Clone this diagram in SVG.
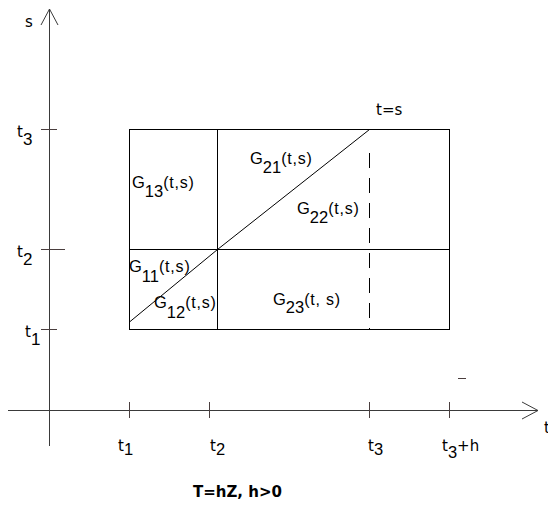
<svg xmlns="http://www.w3.org/2000/svg" width="548" height="508" viewBox="0 0 548 508">
<style>
.ax{stroke:#3a3a3a;stroke-width:1;fill:none}
.tk{stroke:#4a3e3e;stroke-width:1;fill:none}
.bx{stroke:#000;stroke-width:1;fill:none}
.dash{stroke:#000;stroke-width:1;stroke-dasharray:15 10;fill:none}
text{fill:#000;font-family:"DejaVu Sans",sans-serif;font-size:15px}
.g{font-family:"Liberation Sans",Arial,sans-serif;font-size:16.5px}
.d{font-family:"Liberation Sans",Arial,sans-serif;font-size:16.5px}
.ad{font-family:"Liberation Sans",Arial,sans-serif;font-size:17px}
.p{font-family:"Liberation Sans",Arial,sans-serif;font-size:16px;letter-spacing:0.8px}
.b{font-family:"DejaVu Sans",sans-serif;font-weight:bold;font-size:15px}
</style>
<rect width="548" height="508" fill="#fff"/>
<g id="axes">
<line class="ax" x1="49.5" y1="9" x2="49.5" y2="446"/>
<polyline class="ax" points="41,25 49.5,9 58,25"/>
<line class="ax" x1="8" y1="410.5" x2="538" y2="410.5"/>
<polyline class="ax" points="522,402 538,410.5 522,419"/>
<line class="tk" x1="41" y1="129.5" x2="57" y2="129.5"/>
<line class="tk" x1="41" y1="249.5" x2="65" y2="249.5"/>
<line class="tk" x1="41" y1="329.5" x2="57" y2="329.5"/>
<line class="tk" x1="129.5" y1="402" x2="129.5" y2="418"/>
<line class="tk" x1="209.5" y1="402" x2="209.5" y2="418"/>
<line class="tk" x1="369.5" y1="402" x2="369.5" y2="418"/>
<line class="tk" x1="449.5" y1="402" x2="449.5" y2="418"/>
<line class="tk" x1="458" y1="378.5" x2="466" y2="378.5"/>
</g>
<g id="axis-labels">
<text x="25" y="27">s</text>
<text x="17" y="137">t<tspan class="ad" dy="8">3</tspan></text>
<text x="17" y="257">t<tspan class="ad" dy="8">2</tspan></text>
<text x="25" y="337">t<tspan class="ad" dy="8">1</tspan></text>
<text x="118" y="451">t<tspan class="d" dy="4">1</tspan></text>
<text x="210" y="451">t<tspan class="d" dy="4">2</tspan></text>
<text x="368" y="451">t<tspan class="d" dy="4">3</tspan></text>
<text x="442" y="451">t<tspan class="d" dy="7">3</tspan><tspan dy="-7">+h</tspan></text>
<text x="544" y="433">t</text>
<text x="376" y="115">t=s</text>
<text class="b" x="193" y="497">T=hZ, h&gt;0</text>
</g>
<g id="region-box">
<rect class="bx" x="129.5" y="129.5" width="320" height="200"/>
<line class="bx" x1="217.5" y1="129.5" x2="217.5" y2="329.5"/>
<line class="bx" x1="129.5" y1="249.5" x2="449.5" y2="249.5"/>
</g>
<g id="connectors">
<polyline class="bx" points="129.5,322 217.5,249.5 369.5,129.5"/>
<line class="dash" x1="369.5" y1="153" x2="369.5" y2="329"/>
</g>
<g id="G13"><text x="132" y="188"><tspan class="g">G</tspan><tspan class="d" dy="9">13</tspan><tspan class="p" dy="-9">(t,s)</tspan></text></g>
<g id="G21"><text x="250" y="164"><tspan class="g">G</tspan><tspan class="d" dy="9">21</tspan><tspan class="p" dy="-9">(t,s)</tspan></text></g>
<g id="G22"><text x="297" y="214"><tspan class="g">G</tspan><tspan class="d" dy="9">22</tspan><tspan class="p" dy="-9">(t,s)</tspan></text></g>
<g id="G11"><text x="129" y="272"><tspan class="g">G</tspan><tspan class="d" dy="10">11</tspan><tspan class="p" dy="-10">(t,s)</tspan></text></g>
<g id="G12"><text x="154" y="308"><tspan class="g">G</tspan><tspan class="d" dy="10">12</tspan><tspan class="p" dy="-10">(t,s)</tspan></text></g>
<g id="G23"><text x="273" y="305"><tspan class="g">G</tspan><tspan class="d" dy="8">23</tspan><tspan class="p" dy="-8">(t, s)</tspan></text></g>
</svg>
